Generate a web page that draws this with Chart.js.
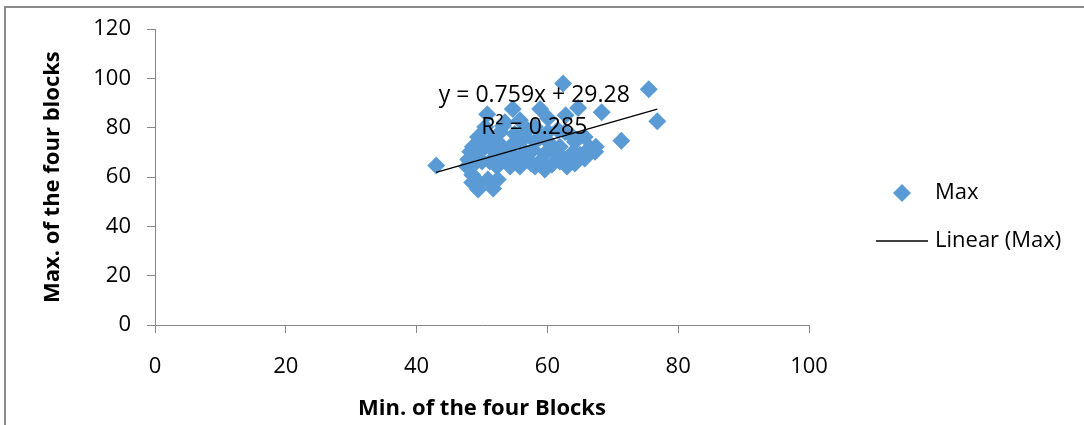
<!DOCTYPE html>
<html>
<head>
<meta charset="utf-8">
<script src="https://cdn.jsdelivr.net/npm/chart.js@4.4.0/dist/chart.umd.min.js"></script>
<style>
    body { margin: 0; background: #fff; overflow: hidden; }
    #wrap { position: relative; width: 1084px; height: 425px; }
    #frame { position: absolute; left: 4px; top: 6px; width: 1200px; height: 600px; border: 2px solid #8a8a8a; }
    #chart { position: absolute; left: 0; top: 0; }
</style>
</head>
<body>
<div id="wrap">
    <div id="frame"></div>
    <canvas id="chart" width="1084" height="425"></canvas>
</div>
<script>
// min of the four blocks (x) / max of the four blocks (y)
var minValues = [43.0, 75.5, 76.8, 71.3, 68.3, 62.4, 64.7, 58.9, 54.7, 50.8,
    62.8, 60.1, 57.0, 53.2, 66.5, 65.0, 62.7, 60.7, 58.9, 57.0,
    55.0, 53.2, 51.2, 49.2, 48.6, 49.7, 48.5, 48.5, 49.4, 51.7,
    50.9, 52.4, 54.3, 55.8, 58.1, 60.4, 61.9, 64.2, 65.7, 62.7,
    60.1, 55.0, 51.2, 50.0, 56.6, 59.6, 61.9, 64.0, 67.4, 53.5,
    55.8, 50.5, 47.9, 61.6, 58.1, 52.3, 57.5, 63.0, 49.7, 52.4,
    58.1, 59.6, 64.2, 65.7, 67.3, 54.3, 55.8, 53.5, 52.0, 50.5,
    47.7, 57.8, 61.2, 63.9, 58.9, 56.6, 52.8, 49.4, 48.2];
var maxValues = [64.7, 95.6, 82.7, 74.7, 86.3, 98.0, 88.0, 87.6, 87.6, 85.5,
    85.1, 83.9, 79.1, 80.7, 71.9, 69.1, 67.1, 65.1, 66.3, 67.1,
    68.3, 67.1, 66.3, 66.3, 72.3, 70.3, 61.0, 57.8, 55.0, 55.4,
    59.0, 74.3, 72.3, 74.3, 74.3, 73.5, 72.3, 74.3, 76.3, 78.3,
    78.3, 77.5, 76.3, 66.3, 70.3, 69.5, 66.3, 70.3, 72.3, 82.3,
    83.1, 80.3, 67.1, 79.1, 80.3, 64.3, 65.5, 64.3, 57.4, 59.0,
    64.3, 63.1, 65.5, 67.5, 70.3, 64.3, 64.3, 70.3, 70.3, 72.3,
    64.3, 71.1, 70.3, 76.3, 76.3, 76.3, 78.3, 76.3, 70.3];
var xTicks = [0, 20, 40, 60, 80, 100];
var yTicks = [0, 20, 40, 60, 80, 100, 120];
var trendSlope = 0.759;
var trendIntercept = 29.28;
var trendR2 = 0.285;

var fontName = '"Open Sans", "Liberation Sans", sans-serif';
var axisGray = '#868686';
var markerBlue = '#5B9BD5';

function buildPoints() {
    var pts = [];
    minValues.forEach(function (v, i) {
        pts.push({ x: v, y: maxValues[i] });
    });
    return pts;
}

function buildTrend() {
    var lo = Math.min.apply(null, minValues);
    var hi = Math.max.apply(null, minValues);
    return [
        { x: lo, y: trendSlope * lo + trendIntercept },
        { x: hi, y: trendSlope * hi + trendIntercept }
    ];
}

// legend + trendline label, drawn like the Excel original
var extrasPlugin = {
    id: 'extras',
    afterDatasetsDraw: function (chart) {
        var ctx = chart.ctx;
        var xs = chart.scales.x, ys = chart.scales.y;
        ctx.save();
        ctx.fillStyle = '#000';
        ctx.font = '23px ' + fontName;
        ctx.textAlign = 'center';
        ctx.textBaseline = 'middle';
        var lx = xs.getPixelForValue(58);
        ctx.fillText('y = ' + trendSlope + 'x + ' + trendIntercept, lx, ys.getPixelForValue(93.2));
        ctx.fillText('R\u00B2 = ' + trendR2, lx, ys.getPixelForValue(80));
        ctx.restore();
    },
    afterDraw: function (chart) {
        var ctx = chart.ctx;
        var ds = chart.data.datasets;
        var x0 = chart.chartArea.right + 67;
        ctx.save();
        ctx.font = '22px ' + fontName;
        ctx.textBaseline = 'middle';
        ctx.textAlign = 'left';
        // marker entry
        var y1 = 193;
        ctx.fillStyle = ds[0].backgroundColor;
        ctx.beginPath();
        ctx.moveTo(x0 + 26, y1 - 9);
        ctx.lineTo(x0 + 35, y1);
        ctx.lineTo(x0 + 26, y1 + 9);
        ctx.lineTo(x0 + 17, y1);
        ctx.closePath();
        ctx.fill();
        ctx.fillStyle = '#000';
        ctx.fillText(ds[0].label, x0 + 59, y1);
        // line entry
        var y2 = 241;
        ctx.strokeStyle = ds[1].borderColor;
        ctx.lineWidth = 1.3;
        ctx.beginPath();
        ctx.moveTo(x0, y2);
        ctx.lineTo(x0 + 52, y2);
        ctx.stroke();
        ctx.fillText(ds[1].label, x0 + 59, y2);
        ctx.restore();
    }
};

var ctx = document.getElementById('chart').getContext('2d');
var myChart = new Chart(ctx, {
    type: 'scatter',
    data: {
        datasets: [{
            label: 'Max',
            data: buildPoints(),
            pointStyle: 'rectRot',
            pointRadius: 9,
            pointHoverRadius: 9,
            backgroundColor: markerBlue,
            borderColor: markerBlue,
            borderWidth: 0,
            order: 1
        }, {
            label: 'Linear (Max)',
            type: 'line',
            data: buildTrend(),
            showLine: true,
            borderColor: '#000000',
            borderWidth: 1.3,
            pointRadius: 0,
            fill: false,
            order: 0
        }]
    },
    options: {
        responsive: false,
        animation: false,
        layout: { padding: { left: 36, top: 27, right: 275, bottom: 0 } },
        plugins: {
            legend: { display: false },
            tooltip: { enabled: false }
        },
        scales: {
            x: {
                type: 'linear',
                min: 0,
                max: 100,
                afterBuildTicks: function (scale) {
                    scale.ticks = xTicks.map(function (v) { return { value: v }; });
                },
                afterFit: function (scale) { scale.height = 100; },
                ticks: { color: '#000', padding: 21, font: { family: fontName, size: 22 } },
                grid: { drawOnChartArea: false, drawTicks: true, tickLength: 8, color: axisGray },
                border: { color: axisGray, width: 1 },
                title: {
                    display: true,
                    text: 'Min. of the four Blocks',
                    color: '#000',
                    font: { family: fontName, size: 22, weight: 'bold' },
                    padding: { top: 4, bottom: 3 }
                }
            },
            y: {
                type: 'linear',
                min: 0,
                max: 120,
                afterBuildTicks: function (scale) {
                    scale.ticks = yTicks.map(function (v) { return { value: v }; });
                },
                afterFit: function (scale) { scale.width = 119; },
                ticks: { color: '#000', padding: 16, font: { family: fontName, size: 22 } },
                grid: { drawOnChartArea: false, drawTicks: true, tickLength: 8, color: axisGray },
                border: { color: axisGray, width: 1 },
                title: {
                    display: true,
                    text: 'Max. of the four blocks',
                    color: '#000',
                    font: { family: fontName, size: 22, weight: 'bold' },
                    padding: { top: 4, bottom: 4 }
                }
            }
        }
    },
    plugins: [extrasPlugin]
});
</script>
</body>
</html>
